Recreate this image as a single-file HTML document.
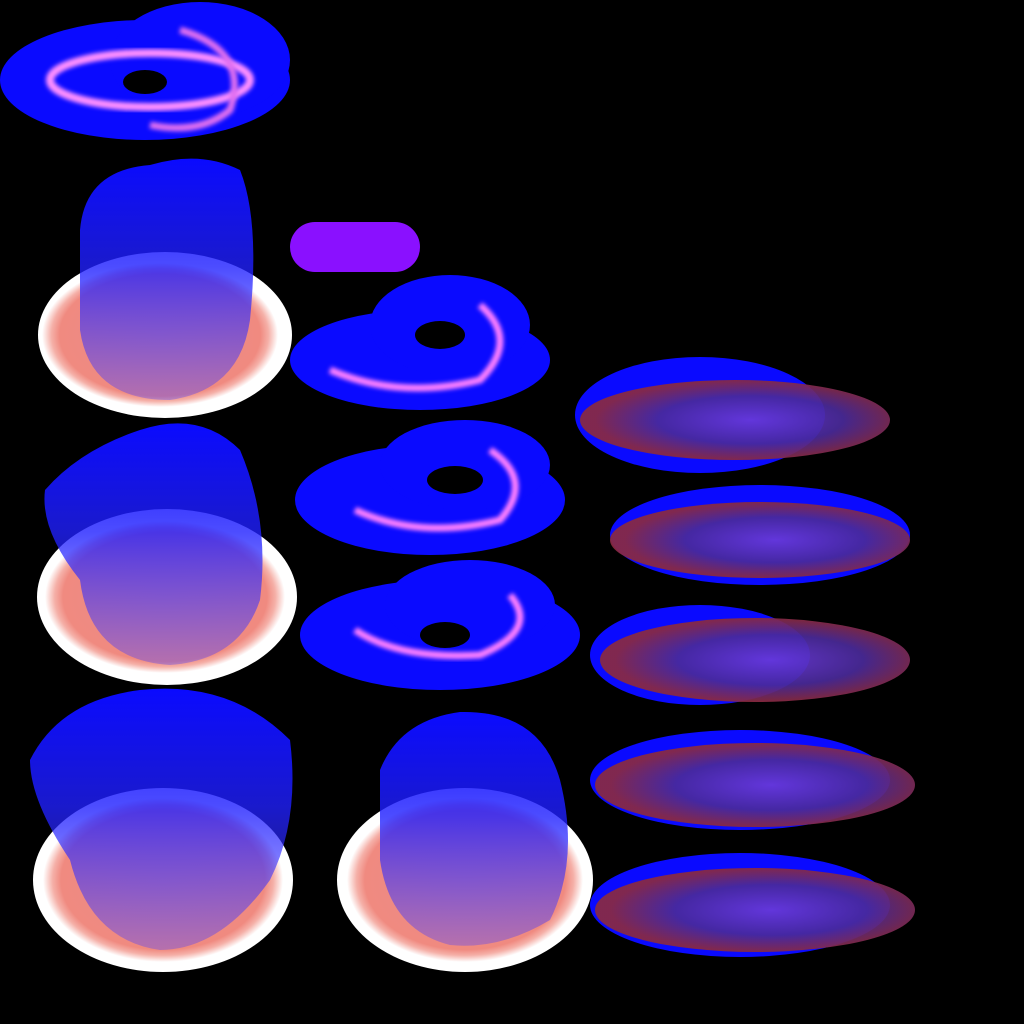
<!DOCTYPE html>
<html><head><meta charset="utf-8"><style>
html,body{margin:0;padding:0;background:#000;width:1024px;height:1024px;overflow:hidden}
svg{display:block}
</style></head><body>
<svg width="1024" height="1024" viewBox="0 0 1024 1024">
<defs>
<filter id="b2"><feGaussianBlur stdDeviation="2"/></filter>
<radialGradient id="disc" cx="50%" cy="50%" r="50%">
<stop offset="0" stop-color="#e98a8a"/><stop offset="0.85" stop-color="#f08a80"/><stop offset="0.92" stop-color="#f5b0a8"/><stop offset="1" stop-color="#fff"/>
</radialGradient>
<radialGradient id="neb" cx="55%" cy="50%" r="50%">
<stop offset="0" stop-color="#6a3ad8"/><stop offset="0.6" stop-color="#4a2a9a"/><stop offset="1" stop-color="#8a2a40"/>
</radialGradient>
<linearGradient id="bluefade" x1="0" y1="0" x2="0" y2="1">
<stop offset="0" stop-color="#0a0aff" stop-opacity="1"/><stop offset="0.45" stop-color="#2020ff" stop-opacity="0.8"/><stop offset="1" stop-color="#4a40ff" stop-opacity="0.35"/>
</linearGradient>
</defs>
<rect width="1024" height="1024" fill="#000"/>

<g>
<ellipse cx="145" cy="80" rx="145" ry="60" fill="#0a0aff"/>
<ellipse cx="200" cy="60" rx="90" ry="58" fill="#0a0aff"/>
<ellipse cx="150" cy="80" rx="100" ry="27" fill="none" stroke="#ff90ff" stroke-width="8" filter="url(#b2)"/>
<path d="M180 30 Q250 50 230 110 Q200 135 150 125" fill="none" stroke="#e070f0" stroke-width="7" filter="url(#b2)"/>
<ellipse cx="145" cy="82" rx="22" ry="12" fill="#000"/>
</g>

<rect x="290" y="222" width="130" height="50" rx="25" fill="#8a10ff"/>

<g>
<ellipse cx="165" cy="335" rx="127" ry="83" fill="#fff"/>
<ellipse cx="160" cy="335" rx="118" ry="72" fill="url(#disc)"/>
<path d="M80 230 Q85 170 150 165 Q200 150 240 170 Q260 220 250 320 Q240 390 170 400 Q90 400 80 330 Z" fill="url(#bluefade)"/>
</g>
<g>
<ellipse cx="167" cy="597" rx="130" ry="88" fill="#fff"/>
<ellipse cx="165" cy="597" rx="120" ry="76" fill="url(#disc)"/>
<path d="M45 490 Q80 450 140 430 Q200 410 240 450 Q270 520 260 600 Q240 660 170 665 Q90 660 80 580 Q40 530 45 490 Z" fill="url(#bluefade)"/>
</g>
<g>
<ellipse cx="163" cy="880" rx="130" ry="92" fill="#fff"/>
<ellipse cx="163" cy="880" rx="120" ry="82" fill="url(#disc)"/>
<path d="M30 760 Q60 700 140 690 Q230 680 290 740 Q300 820 270 880 Q220 950 160 950 Q90 940 70 860 Q30 800 30 760 Z" fill="url(#bluefade)"/>
</g>
<g>
<ellipse cx="465" cy="880" rx="128" ry="92" fill="#fff"/>
<ellipse cx="465" cy="880" rx="118" ry="82" fill="url(#disc)"/>
<path d="M380 770 Q400 720 460 712 Q540 710 560 780 Q580 860 550 920 Q500 950 450 945 Q390 930 380 860 Z" fill="url(#bluefade)"/>
</g>

<g>
<ellipse cx="420" cy="360" rx="130" ry="50" fill="#0a0aff"/>
<ellipse cx="450" cy="325" rx="80" ry="50" fill="#0a0aff"/>
<path d="M330 370 Q400 400 480 380 Q520 340 480 305" fill="none" stroke="#ff80ff" stroke-width="7" filter="url(#b2)"/>
<ellipse cx="440" cy="335" rx="25" ry="14" fill="#000"/>
</g>
<g>
<ellipse cx="430" cy="500" rx="135" ry="55" fill="#0a0aff"/>
<ellipse cx="465" cy="465" rx="85" ry="45" fill="#0a0aff"/>
<path d="M355 510 Q420 540 500 520 Q535 480 490 450" fill="none" stroke="#ff80ff" stroke-width="7" filter="url(#b2)"/>
<ellipse cx="455" cy="480" rx="28" ry="14" fill="#000"/>
</g>
<g>
<ellipse cx="440" cy="635" rx="140" ry="55" fill="#0a0aff"/>
<ellipse cx="470" cy="605" rx="85" ry="45" fill="#0a0aff"/>
<path d="M355 630 Q400 660 480 655 Q540 630 510 595" fill="none" stroke="#ff80ff" stroke-width="7" filter="url(#b2)"/>
<ellipse cx="445" cy="635" rx="25" ry="13" fill="#000"/>
</g>

<g>
<ellipse cx="700" cy="415" rx="125" ry="58" fill="#0a0aff"/>
<ellipse cx="735" cy="420" rx="155" ry="40" fill="url(#neb)" opacity="0.92"/>
</g>
<g>
<ellipse cx="760" cy="535" rx="150" ry="50" fill="#0a0aff"/>
<ellipse cx="760" cy="540" rx="150" ry="38" fill="url(#neb)" opacity="0.92"/>
</g>
<g>
<ellipse cx="700" cy="655" rx="110" ry="50" fill="#0a0aff"/>
<ellipse cx="755" cy="660" rx="155" ry="42" fill="url(#neb)" opacity="0.92"/>
</g>
<g>
<ellipse cx="740" cy="780" rx="150" ry="50" fill="#0a0aff"/>
<ellipse cx="755" cy="785" rx="160" ry="42" fill="url(#neb)" opacity="0.92"/>
</g>
<g>
<ellipse cx="740" cy="905" rx="150" ry="52" fill="#0a0aff"/>
<ellipse cx="755" cy="910" rx="160" ry="42" fill="url(#neb)" opacity="0.92"/>
</g>
</svg>
</body></html>
